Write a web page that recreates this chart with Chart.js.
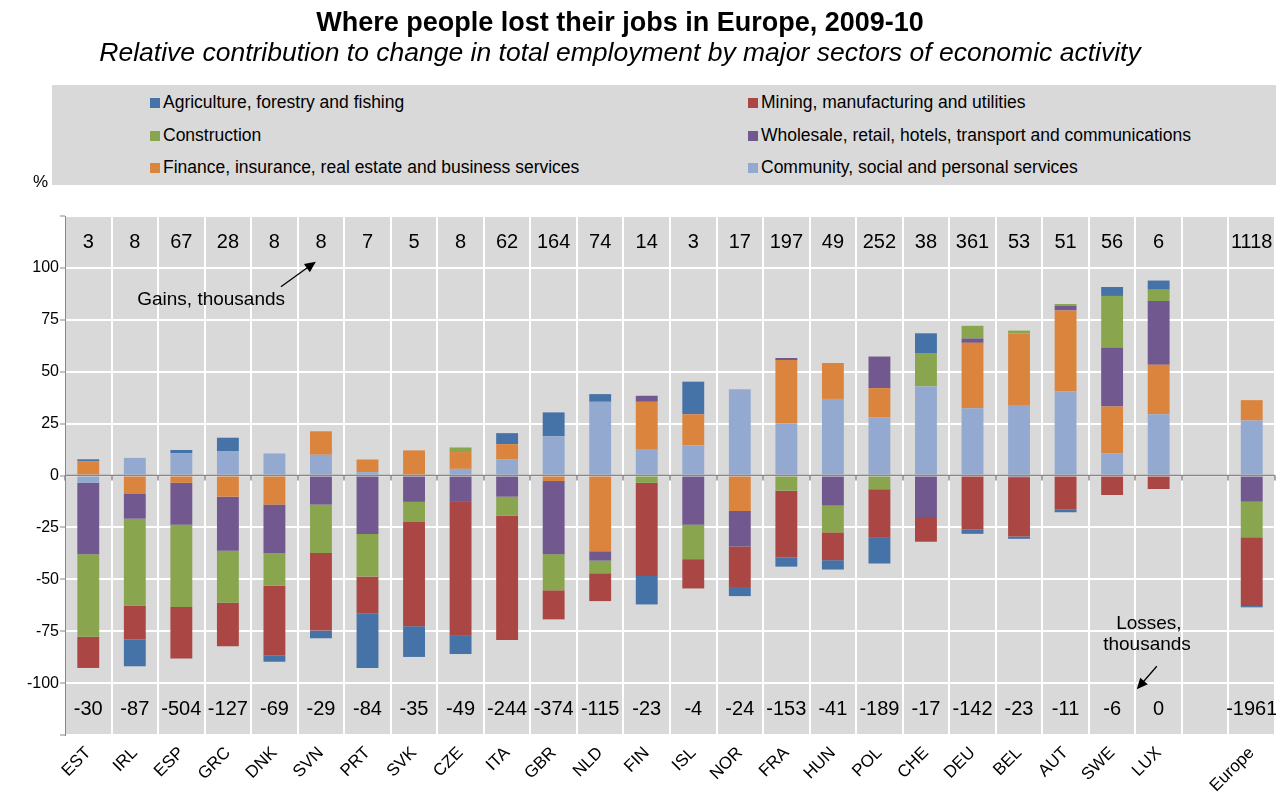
<!DOCTYPE html>
<html>
<head>
<meta charset="utf-8">
<script src="https://cdn.jsdelivr.net/npm/chart.js@4.4.1/dist/chart.umd.min.js"></script>
<style>
  body { margin: 0; background: #fff; font-family: "Liberation Sans", Arial, sans-serif; }
  #wrap { position: relative; width: 1276px; height: 798px; overflow: hidden; }
  #chart { position: absolute; left: 0; top: 0; }
  .title { position: absolute; left: 0; width: 1240px; text-align: center; color: #000; white-space: nowrap; }
  #t1 { top: 6px; font-size: 27px; line-height: 32px; font-weight: bold; }
  #t2 { top: 36px; font-size: 26.5px; line-height: 32px; font-style: italic; }
  #legend { position: absolute; left: 52px; top: 85px; width: 1224px; height: 100px; background: #d9d9d9; }
  .item { position: absolute; font-size: 17.5px; white-space: nowrap; line-height: 20px; }
  .item i { display: inline-block; width: 10px; height: 10px; margin-right: 3px; vertical-align: 0px; }
  #pct { position: absolute; left: 33px; top: 172px; font-size: 17px; }
</style>
</head>
<body>
<div id="wrap">
  <canvas id="chart" width="1276" height="798"></canvas>
  <div class="title" id="t1">Where people lost their jobs in Europe, 2009-10</div>
  <div class="title" id="t2">Relative contribution to change in total employment by major sectors of economic activity</div>
  <div id="legend"></div>
  <div id="pct">%</div>
</div>
<script>
// categories (blank slot before Europe)
const countries = ['EST', 'IRL', 'ESP', 'GRC', 'DNK', 'SVN', 'PRT', 'SVK', 'CZE', 'ITA', 'GBR', 'NLD', 'FIN', 'ISL', 'NOR', 'FRA', 'HUN', 'POL', 'CHE', 'DEU', 'BEL', 'AUT', 'SWE', 'LUX', '', 'Europe'];

// contributions, %
const community = [-3.5, 8.5, 10.8, 11.6, 10.6, 10, 1.6, 0, 3.2, 7.7, 18.9, 35.5, 12.4, 14.5, 41.5, 25.2, 36.9, 27.9, 42.9, 32.4, 33.9, 40.6, 10.6, 29.5, null, 26.5];
const finance = [6.8, -8.9, -3.5, -10.2, -14, 11.3, 6.1, 12.1, 8.1, 7.4, -2.7, -36.5, 23.1, 15, -17.1, 30.4, 17.3, 14.2, 0, 31.5, 34.5, 38.9, 22.6, 23.9, null, 9.8];
const wholesale = [-34.4, -11.9, -20.2, -26.1, -23.3, -14, -28.2, -12.7, -12.7, -10.2, -35.2, -4.5, 2.9, -23.7, -17.1, 1, -14.5, 15.2, -20, 2.1, -1.1, 2.3, 28.4, 30.6, null, -12.6];
const construction = [-39.8, -41.9, -39.7, -25, -15.8, -23.3, -20.5, -9.7, 2.2, -9.2, -17.4, -6.1, -3.5, -16.6, 0, -7.3, -12.9, -6.6, 15.8, 6.1, 1.4, 0.8, 24.9, 5.5, null, -17.2];
const mining = [-15, -16.3, -24.8, -21, -33.5, -37.4, -17.8, -50.2, -64.2, -59.8, -14, -13.4, -44.9, -14.1, -19.5, -32.2, -13.4, -23.1, -11.9, -26, -28.3, -16.3, -9.4, -6.5, null, -33.1];
const agriculture = [1, -12.9, 1.5, 6.6, -3.1, -3.7, -26.2, -14.8, -9.1, 5.3, 11.5, 3.7, -13.7, 15.7, -4.4, -4.4, -4.5, -12.7, 9.8, -2.1, -1.1, -1.4, 4.3, 4.4, null, -0.6];

// thousands of jobs
const gains = ['3', '8', '67', '28', '8', '8', '7', '5', '8', '62', '164', '74', '14', '3', '17', '197', '49', '252', '38', '361', '53', '51', '56', '6', '', '1118'];
const losses = ['-30', '-87', '-504', '-127', '-69', '-29', '-84', '-35', '-49', '-244', '-374', '-115', '-23', '-4', '-24', '-153', '-41', '-189', '-17', '-142', '-23', '-11', '-6', '0', '', '-1961'];

const sectorNames = ['Agriculture, forestry and fishing', 'Mining, manufacturing and utilities', 'Construction',
  'Wholesale, retail, hotels, transport and communications', 'Finance, insurance, real estate and business services',
  'Community, social and personal services'];
const colors = {
  agriculture: '#4572a7', mining: '#aa4643', construction: '#89a54e',
  wholesale: '#71588f', finance: '#db843d', community: '#93a9cf'
};

// legend (two columns, drawn as html)
const legendKeys = ['agriculture', 'mining', 'construction', 'wholesale', 'finance', 'community'];
const legendBox = document.getElementById('legend');
legendKeys.forEach(function (k, i) {
  const div = document.createElement('div');
  div.className = 'item';
  div.style.left = (i % 2 === 0 ? 98 : 696) + 'px';
  div.style.top = (7 + Math.floor(i / 2) * 32.5) + 'px';
  div.innerHTML = '<i style="background:' + colors[k] + '"></i>' + sectorNames[i];
  legendBox.appendChild(div);
});

Chart.defaults.font.family = "'Liberation Sans', Arial, sans-serif";
Chart.defaults.color = '#000';

const plotBg = {
  id: 'plotBg',
  beforeDraw(chart) {
    const { ctx, chartArea: a } = chart;
    ctx.save();
    ctx.fillStyle = '#d9d9d9';
    ctx.fillRect(a.left, a.top, a.right - a.left, a.bottom - a.top);
    ctx.restore();
  }
};

function arrow(ctx, x1, y1, x2, y2) {
  const ang = Math.atan2(y2 - y1, x2 - x1);
  ctx.beginPath();
  ctx.moveTo(x1, y1);
  ctx.lineTo(x2 - 8 * Math.cos(ang), y2 - 8 * Math.sin(ang));
  ctx.stroke();
  ctx.beginPath();
  ctx.moveTo(x2, y2);
  ctx.lineTo(x2 - 11 * Math.cos(ang) + 5 * Math.sin(ang), y2 - 11 * Math.sin(ang) - 5 * Math.cos(ang));
  ctx.lineTo(x2 - 11 * Math.cos(ang) - 5 * Math.sin(ang), y2 - 11 * Math.sin(ang) + 5 * Math.cos(ang));
  ctx.closePath();
  ctx.fill();
}

const extras = {
  id: 'extras',
  afterDatasetsDraw(chart) {
    const { ctx, scales: { x, y } } = chart;
    const y0 = y.getPixelForValue(0);
    const step = x.getPixelForValue(1) - x.getPixelForValue(0);
    ctx.save();
    // zero line and its little tick marks
    ctx.strokeStyle = '#888';
    ctx.lineWidth = 1.5;
    ctx.beginPath();
    ctx.moveTo(x.left, y0);
    ctx.lineTo(x.right, y0);
    for (let i = 0; i <= countries.length; i++) {
      const px = Math.round(x.getPixelForValue(0) - step / 2 + i * step);
      ctx.moveTo(px, y0);
      ctx.lineTo(px, y0 + 5);
    }
    ctx.stroke();

    // gains / losses in thousands
    ctx.fillStyle = '#000';
    ctx.font = "20px 'Liberation Sans', Arial, sans-serif";
    ctx.textAlign = 'center';
    ctx.textBaseline = 'middle';
    countries.forEach(function (c, i) {
      const px = x.getPixelForValue(i);
      ctx.fillText(gains[i], px, y.getPixelForValue(112.3));
      ctx.fillText(losses[i], px, y.getPixelForValue(-112.7));
    });

    // annotations
    ctx.font = "19px 'Liberation Sans', Arial, sans-serif";
    ctx.fillText('Gains, thousands', x.getPixelForValue(2.64), y.getPixelForValue(84.6));
    ctx.fillText('Losses,', x.getPixelForValue(22.79), y.getPixelForValue(-71.6));
    ctx.fillText('thousands', x.getPixelForValue(22.75), y.getPixelForValue(-81.7));
    ctx.strokeStyle = '#000';
    ctx.lineWidth = 1.3;
    arrow(ctx, x.getPixelForValue(4.14), y.getPixelForValue(90.9), x.getPixelForValue(4.89), y.getPixelForValue(103));
    arrow(ctx, x.getPixelForValue(22.96), y.getPixelForValue(-91.9), x.getPixelForValue(22.53), y.getPixelForValue(-103));
    ctx.restore();
  }
};

function ds(label, data, color) {
  return {
    label: label,
    data: data,
    backgroundColor: color,
    borderWidth: 0,
    barPercentage: 0.47,
    categoryPercentage: 1
  };
}

// stacking order from the zero line outwards
const datasets = [
  ds(sectorNames[5], community, colors.community),
  ds(sectorNames[4], finance, colors.finance),
  ds(sectorNames[3], wholesale, colors.wholesale),
  ds(sectorNames[2], construction, colors.construction),
  ds(sectorNames[1], mining, colors.mining),
  ds(sectorNames[0], agriculture, colors.agriculture)
];

new Chart(document.getElementById('chart').getContext('2d'), {
  type: 'bar',
  data: { labels: countries, datasets: datasets },
  options: {
    responsive: false,
    animation: false,
    devicePixelRatio: 1,
    layout: { padding: { top: 216, right: 1, left: 0, bottom: 0 } },
    plugins: { legend: { display: false }, tooltip: { enabled: false } },
    scales: {
      x: {
        stacked: true,
        grid: { color: '#fff', lineWidth: 2, drawTicks: false, offset: true },
        border: { display: false },
        ticks: { autoSkip: false, maxRotation: 45, minRotation: 45, font: { size: 17 }, padding: 8 },
        afterFit(s) { s.height = 63; }
      },
      y: {
        stacked: true,
        min: -125,
        max: 125,
        ticks: {
          stepSize: 25,
          font: { size: 16 },
          padding: 1,
          callback: function (v) { return Math.abs(v) === 125 ? '' : v; }
        },
        grid: { color: '#fff', lineWidth: 2, tickColor: '#888', tickLength: 5, tickWidth: 1 },
        border: { color: '#888', width: 1 },
        afterFit(s) { s.width = 65; }
      }
    }
  },
  plugins: [plotBg, extras]
});
</script>
</body>
</html>
